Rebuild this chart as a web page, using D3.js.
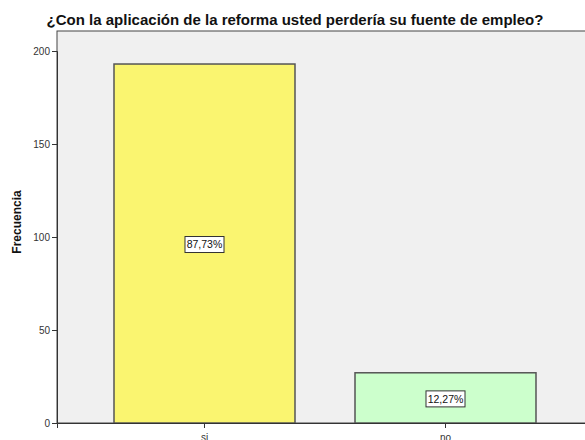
<!DOCTYPE html>
<html>
<head>
<meta charset="utf-8">
<script src="https://cdn.jsdelivr.net/npm/d3@7"></script>
<style>
body{margin:0;background:#fff;}
text{font-family:"Liberation Sans",Arial,sans-serif;}
</style>
</head>
<body>
<div id="chart"></div>
<script>

// DATA

const categories = ["si","no"]
const counts = [193,27]
const percents = ["87,73%","12,27%"]
const yTicks = [0,50,100,150,200]

const width = 585
const height = 440
const margin = {top:31,right:0,bottom:17,left:57}

const svg = d3.select("#chart")
.append("svg")
.attr("width",width)
.attr("height",height)

// TITLE

svg.append("text")
.attr("x",295)
.attr("y",25)
.attr("text-anchor","middle")
.attr("font-size","15px")
.attr("font-weight","bold")
.attr("fill","#111")
.text("¿Con la aplicación de la reforma usted perdería su fuente de empleo?")

const x = d3.scaleBand()
.domain(categories)
.range([margin.left,593])
.paddingInner(0.249)
.paddingOuter(0.2365)

const y = d3.scaleLinear()
.domain([0,200])
.range([height-margin.bottom,height-margin.bottom-372])

// PLOT BACKGROUND

svg.append("rect")
.attr("x",margin.left)
.attr("y",margin.top)
.attr("width",width-margin.left+2)
.attr("height",height-margin.bottom-margin.top)
.attr("fill","#f0f0f0")
.attr("stroke","#444")
.attr("stroke-width",1)

// BARS

const color = ["#faf570","#ccffcc"]

svg.selectAll(".bar")
.data(counts)
.enter()
.append("rect")
.attr("class","bar")
.attr("x",(d,i)=>x(categories[i]))
.attr("y",d=>y(d))
.attr("width",x.bandwidth())
.attr("height",d=>y(0)-y(d))
.attr("fill",(d,i)=>color[i])
.attr("stroke","#555")
.attr("stroke-width",1.5)

// AXES

svg.append("g")
.attr("transform",`translate(${margin.left},0)`)
.call(d3.axisLeft(y).tickValues(yTicks).tickSize(5).tickPadding(2))
.call(g=>g.select(".domain").attr("stroke","#333"))
.call(g=>g.selectAll(".tick line").attr("stroke","#333"))
.call(g=>g.selectAll("text").attr("font-size","10px").attr("fill","#333").attr("font-family","Liberation Sans,Arial,sans-serif"))

svg.append("g")
.attr("transform",`translate(0,${height-margin.bottom})`)
.call(d3.axisBottom(x).tickSize(5).tickPadding(6))
.call(g=>g.select(".domain").attr("stroke","#333"))
.call(g=>g.selectAll(".tick line").attr("stroke","#333"))
.call(g=>g.selectAll("text").attr("font-size","10px").attr("fill","#333").attr("font-family","Liberation Sans,Arial,sans-serif"))

// Y LABEL

svg.append("text")
.attr("transform","translate(21,222) rotate(-90)")
.attr("text-anchor","middle")
.attr("font-size","12px")
.attr("font-weight","bold")
.attr("fill","#111")
.text("Frecuencia")

// PERCENT LABELS

const labels = svg.selectAll(".lbl")
.data(counts)
.enter()
.append("g")
.attr("class","lbl")
.attr("transform",(d,i)=>`translate(${x(categories[i])+x.bandwidth()/2},${(y(d)+y(0))/2+1})`)

labels.append("rect")
.attr("x",-19.5)
.attr("y",-8)
.attr("width",39)
.attr("height",16)
.attr("fill","#fff")
.attr("stroke","#333")

labels.append("text")
.attr("text-anchor","middle")
.attr("dy","0.35em")
.attr("font-size","10.5px")
.attr("fill","#111")
.text((d,i)=>percents[i])

</script>
</body>
</html>
